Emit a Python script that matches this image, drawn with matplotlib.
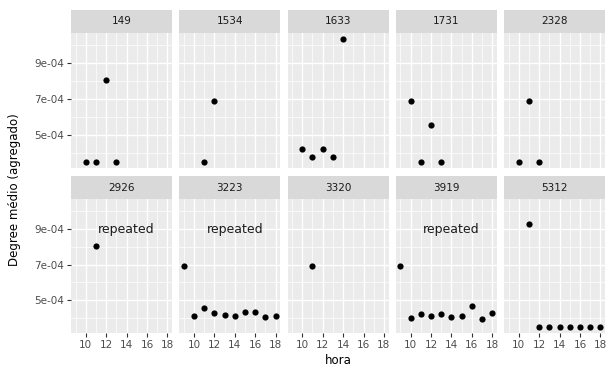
import matplotlib
matplotlib.use("Agg")
import matplotlib.pyplot as plt
from matplotlib.ticker import FixedLocator

plt.rcParams['font.family'] = ['DejaVu Sans']

panels = ['149', '1534', '1633', '1731', '2328', '2926', '3223', '3320', '3919', '5312']
hora = {
    '149': [10, 11, 12, 13],
    '1534': [11, 12],
    '1633': [10, 11, 12, 13, 14],
    '1731': [10, 11, 12, 13],
    '2328': [10, 11, 12],
    '2926': [11],
    '3223': [9, 10, 11, 12, 13, 14, 15, 16, 17, 18],
    '3320': [11],
    '3919': [9, 10, 11, 12, 13, 14, 15, 16, 17, 18],
    '5312': [11, 12, 13, 14, 15, 16, 17, 18],
}
degree = {
    '149': [3.5e-4, 3.5e-4, 8.05e-4, 3.5e-4],
    '1534': [3.5e-4, 6.9e-4],
    '1633': [4.2e-4, 3.75e-4, 4.2e-4, 3.75e-4, 1.035e-3],
    '1731': [6.9e-4, 3.5e-4, 5.53e-4, 3.5e-4],
    '2328': [3.5e-4, 6.9e-4, 3.5e-4],
    '2926': [8.05e-4],
    '3223': [6.9e-4, 4.13e-4, 4.58e-4, 4.27e-4, 4.19e-4, 4.13e-4, 4.34e-4, 4.32e-4, 4.08e-4, 4.1e-4],
    '3320': [6.9e-4],
    '3919': [6.9e-4, 4.02e-4, 4.23e-4, 4.12e-4, 4.23e-4, 4.06e-4, 4.12e-4, 4.66e-4, 3.95e-4, 4.3e-4],
    '5312': [9.26e-4, 3.5e-4, 3.5e-4, 3.5e-4, 3.5e-4, 3.5e-4, 3.5e-4, 3.5e-4],
}
repeated_panels = ['2926', '3223', '3919']
repeated_pos = (14, 9e-4)
x_ticks = [10, 12, 14, 16, 18]
x_minor = [9, 11, 13, 15, 17]
y_ticks = [5e-4, 7e-4, 9e-4]
y_ticklabels = ['5e-04', '7e-04', '9e-04']
y_minor = [4e-4, 6e-4, 8e-4, 1e-3]

W, H = 606, 369
fig = plt.figure(figsize=(W / 100, H / 100), dpi=100)
fig.patch.set_facecolor('white')

allx = [v for p in panels for v in hora[p]]
ally = [v for p in panels for v in degree[p]]
xr = max(allx) - min(allx)
yr = max(ally) - min(ally)
xlim = (min(allx) - 0.05 * xr, max(allx) + 0.05 * xr)
ylim = (min(ally) - 0.05 * yr, max(ally) + 0.05 * yr)

lefts = [71, 179.25, 287.5, 395.75, 504]
pw = 101
rows = [(33, 168, 10), (199, 333, 176)]  # panel top, panel bottom, strip top

def px2fig(x0, y0, x1, y1):
    return [x0 / W, 1 - y1 / H, (x1 - x0) / W, (y1 - y0) / H]

for i, p in enumerate(panels):
    r, c = divmod(i, 5)
    top, bot, stop = rows[r]
    left = lefts[c]
    ax = fig.add_axes(px2fig(left, top, left + pw, bot))
    ax.set_facecolor('#EBEBEB')
    for s in ax.spines.values():
        s.set_visible(False)
    ax.set_xlim(*xlim)
    ax.set_ylim(*ylim)
    ax.xaxis.set_major_locator(FixedLocator(x_ticks))
    ax.xaxis.set_minor_locator(FixedLocator(x_minor))
    ax.yaxis.set_major_locator(FixedLocator(y_ticks))
    ax.yaxis.set_minor_locator(FixedLocator(y_minor))
    ax.grid(True, which='major', color='white', lw=1.0)
    ax.grid(True, which='minor', color='white', lw=0.5)
    ax.set_axisbelow(True)
    ax.tick_params(which='minor', length=0)
    ax.tick_params(which='major', length=2.75, width=0.8, color='#333333',
                   labelsize=7.5, labelcolor='#4D4D4D', pad=2)
    if r == 1:
        ax.set_xticklabels([str(t) for t in x_ticks])
    else:
        ax.tick_params(axis='x', which='major', length=0, labelbottom=False)
    if c == 0:
        ax.set_yticklabels(y_ticklabels)
    else:
        ax.tick_params(axis='y', which='major', length=0, labelleft=False)
    ax.scatter(hora[p], degree[p], s=20, color='black', zorder=3, clip_on=False, linewidths=0)
    if p in repeated_panels:
        ax.text(repeated_pos[0], repeated_pos[1], 'repeated', ha='center', va='center',
                fontsize=9, color='#1A1A1A')
    # strip
    sax = fig.add_axes(px2fig(left, stop, left + pw, top))
    sax.set_facecolor('#D9D9D9')
    sax.set_xticks([]); sax.set_yticks([])
    for s in sax.spines.values():
        s.set_visible(False)
    sax.text(0.5, 0.5, p, ha='center', va='center', fontsize=7.5, color='#1A1A1A',
             transform=sax.transAxes)

fig.text(338 / W, 1 - 361 / H, 'hora', ha='center', va='center', fontsize=8.5, color='black')
fig.text(15 / W, 1 - 190 / H, 'Degree médio (agregado)', ha='center', va='center',
         rotation=90, fontsize=8.5, color='black')

fig.savefig('out.png', dpi=100, facecolor='white')
